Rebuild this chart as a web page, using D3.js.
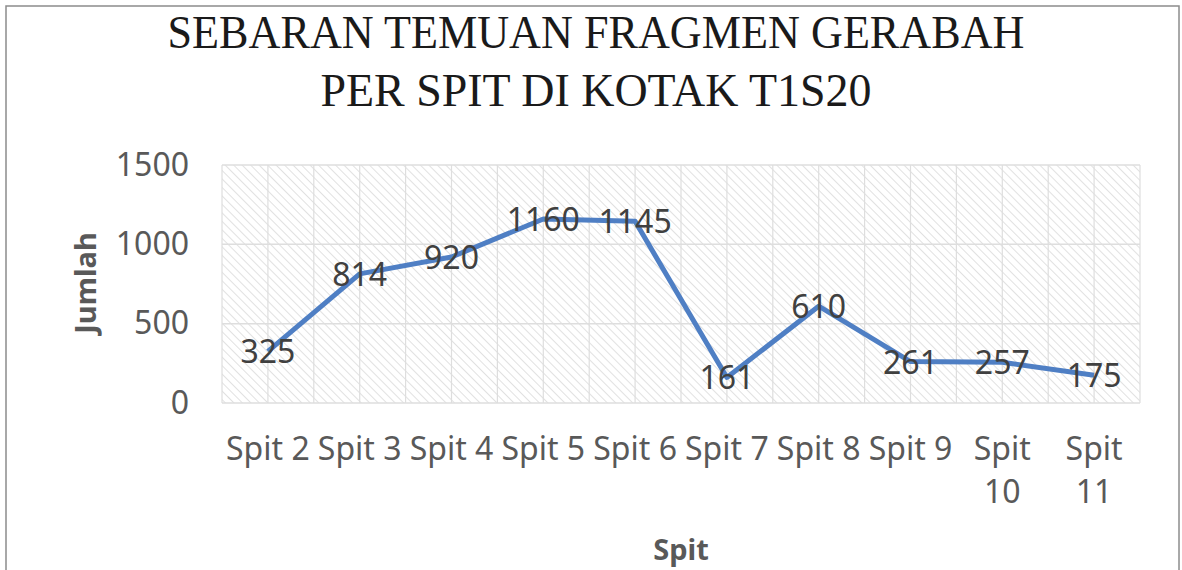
<!DOCTYPE html>
<html>
 <head>
  <title>Sebaran Temuan Fragmen Gerabah</title>
  <script src="https://cdnjs.cloudflare.com/ajax/libs/d3/7.8.3/d3.min.js"></script>
  <style>
   body { margin: 0; background: #fff; }
   text { font-family: "Noto Sans", sans-serif; }
  </style>
 </head>
 <body>
  <script>
   const spits = ["Spit 2", "Spit 3", "Spit 4", "Spit 5", "Spit 6", "Spit 7", "Spit 8", "Spit 9", "Spit 10", "Spit 11"];
   const jumlah = [325, 814, 920, 1160, 1145, 161, 610, 261, 257, 175];
   const yTicks = [0, 500, 1000, 1500];
   const titleLines = ["SEBARAN TEMUAN FRAGMEN GERABAH", "PER SPIT DI KOTAK T1S20"];

   const w = 1182;
   const h = 570;
   const pL = 222, pR = 1140, pT = 165, pB = 403;

   const svg = d3.select("body")
                 .append("svg")
                 .attr("width", w)
                 .attr("height", h);

   // chart border
   svg.append("rect")
      .attr("x", 6).attr("y", 6)
      .attr("width", 1173).attr("height", 580)
      .attr("fill", "none")
      .attr("stroke", "#8c8c8c")
      .attr("stroke-width", 1.5);

   // hatch pattern for plot area (lines running top-left to bottom-right)
   const pat = svg.append("defs")
                  .append("pattern")
                  .attr("id", "hatch")
                  .attr("patternUnits", "userSpaceOnUse")
                  .attr("width", 6)
                  .attr("height", 6)
                  .attr("patternTransform", "rotate(-45)");
   pat.append("line")
      .attr("x1", 0).attr("y1", 0)
      .attr("x2", 0).attr("y2", 6)
      .attr("stroke", "#cccccc")
      .attr("stroke-width", 1.2);

   const xScale = d3.scaleBand()
                    .domain(spits)
                    .range([pL, pR]);
   const yScale = d3.scaleLinear()
                    .domain([0, 1500])
                    .range([pB, pT]);

   svg.append("rect")
      .attr("x", pL).attr("y", pT)
      .attr("width", pR - pL).attr("height", pB - pT)
      .attr("fill", "url(#hatch)");

   // gridlines
   const vx = [];
   spits.forEach(s => { vx.push(xScale(s)); vx.push(xScale(s) + xScale.bandwidth() / 2); });
   vx.push(pR);
   svg.append("g")
      .selectAll("line")
      .data(vx)
      .enter()
      .append("line")
      .attr("x1", d => d).attr("x2", d => d)
      .attr("y1", pT).attr("y2", pB)
      .attr("stroke", "#dedede")
      .attr("stroke-width", 1.2);
   svg.append("g")
      .selectAll("line")
      .data(yTicks)
      .enter()
      .append("line")
      .attr("x1", pL).attr("x2", pR)
      .attr("y1", d => yScale(d)).attr("y2", d => yScale(d))
      .attr("stroke", "#dedede")
      .attr("stroke-width", 1.5);

   // y axis
   const yAxis = d3.axisLeft(yScale)
                   .tickValues(yTicks)
                   .tickFormat(d3.format("d"))
                   .tickSize(0)
                   .tickPadding(33);
   const ya = svg.append("g")
                 .attr("transform", "translate(" + pL + ",0)")
                 .call(yAxis);
   ya.select(".domain").remove();
   ya.selectAll("text")
     .attr("fill", "#595959")
     .style("font-size", "32px")
     .style("font-family", "'Noto Sans', sans-serif");

   // x axis
   const xAxis = d3.axisBottom(xScale)
                   .tickSize(0)
                   .tickPadding(0);
   const xa = svg.append("g")
                 .attr("transform", "translate(0," + pB + ")")
                 .call(xAxis);
   xa.select(".domain").remove();
   xa.selectAll("text")
     .attr("fill", "#595959")
     .attr("dy", null)
     .attr("y", 0)
     .style("font-size", "32px")
     .style("font-family", "'Noto Sans', sans-serif")
     .each(function(d) {
       const t = d3.select(this);
       t.text(null);
       const words = d.split(" ");
       const full = t.append("tspan").attr("x", 0).attr("y", 57).text(d);
       if (full.node().getComputedTextLength() > xScale.bandwidth() - 2) {
         full.text(words[0]);
         t.append("tspan").attr("x", 0).attr("y", 100).text(words.slice(1).join(" "));
       }
     });

   // line
   const line = d3.line()
                  .x((d, i) => xScale(spits[i]) + xScale.bandwidth() / 2)
                  .y(d => yScale(d));
   svg.append("path")
      .datum(jumlah)
      .attr("d", line)
      .attr("fill", "none")
      .attr("stroke", "#4f7fc4")
      .attr("stroke-width", 5)
      .attr("stroke-linejoin", "round");

   // data labels
   svg.append("g")
      .selectAll("text")
      .data(jumlah)
      .enter()
      .append("text")
      .attr("x", (d, i) => xScale(spits[i]) + xScale.bandwidth() / 2)
      .attr("y", d => yScale(d) + 12)
      .attr("text-anchor", "middle")
      .attr("fill", "#404040")
      .style("font-size", "32px")
      .text(d => d);

   // title
   svg.append("g")
      .selectAll("text")
      .data(titleLines)
      .enter()
      .append("text")
      .attr("x", w / 2 + 5)
      .attr("y", (d, i) => 48 + i * 58)
      .attr("text-anchor", "middle")
      .attr("fill", "#1a1a1a")
      .attr("textLength", (d, i) => i == 0 ? 857 : 551)
      .attr("lengthAdjust", "spacingAndGlyphs")
      .style("font-family", "'Liberation Serif', serif")
      .style("font-size", "47px")
      .text(d => d);

   // axis titles
   svg.append("text")
      .attr("transform", "translate(96,283) rotate(-90)")
      .attr("text-anchor", "middle")
      .attr("fill", "#595959")
      .style("font-size", "29px")
      .style("font-weight", "bold")
      .text("Jumlah");
   svg.append("text")
      .attr("x", 681)
      .attr("y", 560)
      .attr("text-anchor", "middle")
      .attr("fill", "#595959")
      .style("font-size", "29px")
      .style("font-weight", "bold")
      .text("Spit");
  </script>
 </body>
</html>
